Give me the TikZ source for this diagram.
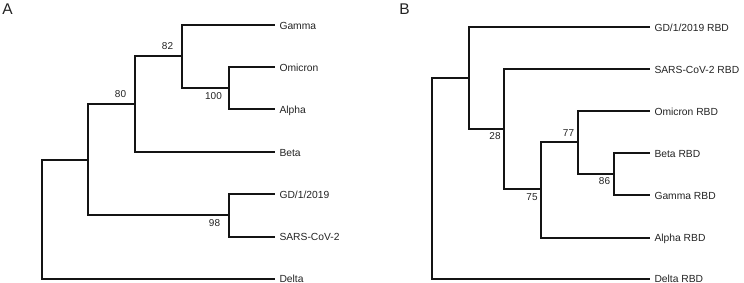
\documentclass[tikz,border=0pt]{standalone}
\usepackage{fontspec}
\setmainfont{Liberation Sans}
\usetikzlibrary{calc}
\definecolor{treeink}{RGB}{20,20,20}
\definecolor{labelink}{RGB}{35,35,35}
\tikzset{
  branch/.style={line width=2pt, draw=treeink},
  leaflabel/.style={
    anchor=west, inner xsep=4.5pt, inner ysep=0pt, outer sep=0pt,
    text height=7.4pt, text depth=0pt,
    font=\fontsize{10.3}{12}\selectfont, text=labelink
  },
  bootlabel/.style={inner sep=0pt, font=\fontsize{10}{12}\selectfont, text=labelink},
  panellabel/.style={inner sep=0pt, font=\fontsize{15.5}{18}\selectfont, text=labelink},
}
\begin{document}
\begin{tikzpicture}[x=1pt, y=-1pt]
  \useasboundingbox (0,0) rectangle (744,283);

  % ── Panel A: leaves ──
  \node[leaflabel] (gamA) at (275, 25.5)  {Gamma};
  \node[leaflabel] (omiA) at (275, 67.5)  {Omicron};
  \node[leaflabel] (alpA) at (275, 109.5) {Alpha};
  \node[leaflabel] (betA) at (275, 152.5) {Beta};
  \node[leaflabel] (gdA)  at (275, 194.5) {GD/1/2019};
  \node[leaflabel] (sarA) at (275, 236.5) {SARS-CoV-2};
  \node[leaflabel] (delA) at (275, 278.5) {Delta};

  % ── Panel A: inner nodes ──
  \coordinate (n100) at (228.5, 88.5);
  \coordinate (n82)  at (181.5, 56.5);
  \coordinate (n80)  at (134.5, 104.5);
  \coordinate (n98)  at (228.5, 215.5);
  \coordinate (nA1)  at (87.5,  160.5);
  \coordinate (rootA) at (41.5, 219.5);

  % ── Panel A: branches ──
  \draw[branch] (n100) |- (omiA.west);
  \draw[branch] (n100) |- (alpA.west);
  \draw[branch] (n82)  |- (gamA.west);
  \draw[branch] (n82)  |- (n100);
  \draw[branch] (n80)  |- (n82);
  \draw[branch] (n80)  |- (betA.west);
  \draw[branch] (n98)  |- (gdA.west);
  \draw[branch] (n98)  |- (sarA.west);
  \draw[branch] (nA1)  |- (n80);
  \draw[branch] (nA1)  |- (n98);
  \draw[branch] (rootA) |- (nA1);
  \draw[branch] (rootA) |- (delA.west);

  % ── Panel A: support values ──
  \node[bootlabel] (s82)  at ($(n82)+(-14,-10)$)  {82};
  \node[bootlabel] (s80)  at ($(n80)+(-14,-10)$)  {80};
  \node[bootlabel] (s100) at ($(n100)+(-15,7.5)$) {100};
  \node[bootlabel] (s98)  at ($(n98)+(-14,7.5)$)  {98};

  % ── Panel B: leaves ──
  \node[leaflabel] (gdB)  at (650, 27.5)  {GD/1/2019 RBD};
  \node[leaflabel] (sarB) at (650, 69.5)  {SARS-CoV-2 RBD};
  \node[leaflabel] (omiB) at (650, 111.5) {Omicron RBD};
  \node[leaflabel] (betB) at (650, 153.5) {Beta RBD};
  \node[leaflabel] (gamB) at (650, 195.5) {Gamma RBD};
  \node[leaflabel] (alpB) at (650, 237.5) {Alpha RBD};
  \node[leaflabel] (delB) at (650, 278.5) {Delta RBD};

  % ── Panel B: inner nodes ──
  \coordinate (n86)  at (613.5, 174.5);
  \coordinate (n77)  at (577.5, 142.5);
  \coordinate (n75)  at (540.5, 189.5);
  \coordinate (n28)  at (503.5, 129.5);
  \coordinate (nB1)  at (468.5, 78.5);
  \coordinate (rootB) at (431.5, 178.5);

  % ── Panel B: branches ──
  \draw[branch] (n86)  |- (betB.west);
  \draw[branch] (n86)  |- (gamB.west);
  \draw[branch] (n77)  |- (omiB.west);
  \draw[branch] (n77)  |- (n86);
  \draw[branch] (n75)  |- (n77);
  \draw[branch] (n75)  |- (alpB.west);
  \draw[branch] (n28)  |- (sarB.west);
  \draw[branch] (n28)  |- (n75);
  \draw[branch] (nB1)  |- (gdB.west);
  \draw[branch] (nB1)  |- (n28);
  \draw[branch] (rootB) |- (nB1);
  \draw[branch] (rootB) |- (delB.west);

  % ── Panel B: support values ──
  \node[bootlabel] (s28) at ($(n28)+(-8.5,6.8)$)  {28};
  \node[bootlabel] (s77) at ($(n77)+(-9,-9.5)$)   {77};
  \node[bootlabel] (s86) at ($(n86)+(-9,7)$)      {86};
  \node[bootlabel] (s75) at ($(n75)+(-8.5,7.2)$)  {75};

  % ── Panel letters ──
  \node[panellabel] (panA) at (7.5, 9)  {A};
  \node[panellabel] (panB) at (404.5, 9) {B};

\end{tikzpicture}
\end{document}
